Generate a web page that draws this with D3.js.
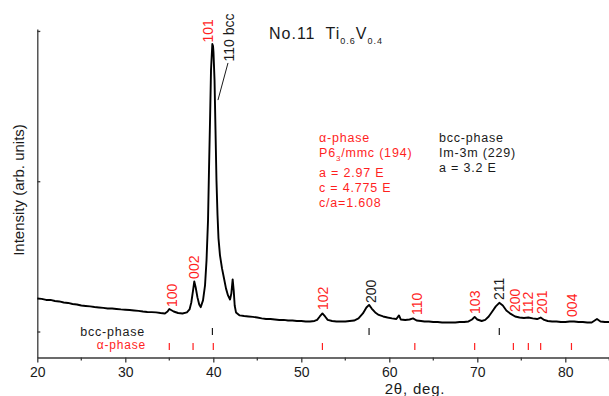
<!DOCTYPE html>
<html>
<head>
<meta charset="utf-8">
<script src="https://cdn.jsdelivr.net/npm/d3@7"></script>
<style>
  body { margin: 0; background: #fff; }
  svg { display: block; font-family: "Liberation Sans", Arial, sans-serif; }
</style>
</head>
<body>
<svg id="chart" width="609" height="396"></svg>
<script>
// XRD pattern
const twoTheta = [
  20.0, 20.5, 21.0, 21.5, 22.0, 22.5, 23.0, 23.5, 24.0, 24.5, 25.0, 25.5, 26.0, 26.5,
  27.0, 27.5, 28.0, 28.5, 29.0, 29.5, 30.0, 30.5, 31.0, 31.5, 32.0, 32.5, 33.0, 33.5,
  34.0, 34.5, 34.8, 35.0, 35.2, 35.5, 36.0, 36.5, 37.0, 37.3, 37.5, 37.7, 37.84, 38.0,
  38.2, 38.4, 38.57, 38.83, 39.06, 39.23, 39.4, 39.51, 39.63, 39.74, 39.89, 39.97, 40.02,
  40.14, 40.25, 40.36, 40.48, 40.59, 40.76, 40.99, 41.22, 41.44, 41.67, 41.9, 42.05, 42.2,
  42.32, 42.43, 42.58, 43.0, 43.5, 44.0, 44.5, 45.0, 45.5, 46.0, 46.5, 47.0, 47.5, 48.0,
  48.5, 49.0, 49.5, 50.0, 50.5, 51.0, 51.5, 51.8, 52.1, 52.4, 52.7, 53.0, 53.5, 54.0,
  54.5, 55.0, 55.5, 56.0, 56.5, 57.0, 57.4, 57.7, 58.0, 58.4, 58.8, 59.3, 59.8, 60.3,
  60.8, 61.1, 61.3, 61.8, 62.3, 62.7, 63.1, 63.6, 64.0, 64.5, 65.0, 65.5, 66.0, 66.5,
  67.0, 67.5, 68.0, 68.5, 69.0, 69.4, 69.7, 70.0, 70.5, 70.9, 71.3, 71.7, 72.1, 72.5,
  72.9, 73.3, 73.8, 74.3, 74.8, 75.3, 75.8, 76.3, 76.8, 77.2, 77.6, 78.0, 78.5, 79.0,
  79.5, 80.0, 80.5, 81.0, 81.5, 82.0, 82.5, 83.0, 83.6, 84.0, 84.5, 85.0
];
const intensity = [
  220, 217, 210, 210, 203, 200, 193, 190, 183, 180, 173, 170, 167, 163,
  160, 157, 153, 153, 150, 147, 145, 143, 140, 137, 133, 130, 129, 127,
  123, 120, 133, 150, 143, 133, 123, 120, 127, 147, 193, 273, 333, 293,
  227, 180, 162, 207, 307, 473, 740, 1073, 1407, 1740, 1913, 1900, 1860,
  1673, 1340, 1007, 773, 620, 507, 420, 353, 287, 240, 213, 253, 347,
  273, 173, 127, 107, 103, 100, 97, 93, 87, 83, 83, 80, 77, 77,
  73, 73, 70, 70, 67, 67, 70, 77, 100, 120, 100, 77, 70, 67,
  67, 67, 70, 73, 87, 120, 160, 177, 153, 127, 110, 100, 93, 87,
  83, 107, 80, 77, 80, 87, 73, 70, 67, 67, 63, 63, 60, 60,
  60, 60, 63, 63, 67, 80, 97, 80, 70, 77, 100, 133, 167, 191,
  173, 140, 117, 100, 93, 90, 93, 87, 83, 93, 77, 70, 67, 67,
  63, 63, 67, 67, 63, 63, 60, 60, 83, 67, 63, 63
];

// reference reflections
const bccPositions = [39.9, 57.7, 72.5];
const alphaPositions = [35.0, 37.7, 40.0, 52.4, 62.9, 69.7, 74.1, 75.8, 77.2, 80.7];

// hkl labels: text, phase, 2theta, intensity where the label starts
const labelText = ['100', '002', '101', '110 bcc', '102', '200', '110', '103', '211', '200', '112', '201', '004'];
const labelPhase = ['a', 'a', 'a', 'b', 'a', 'b', 'a', 'a', 'b', 'a', 'a', 'a', 'a'];
const labelTheta = [35.3, 37.8, 39.34, 41.8, 52.47, 57.9, 63.15, 69.74, 72.5, 74.3, 75.8, 77.4, 80.76];
const labelAt = [163, 350, 1923, 1797, 143, 190, 110, 117, 210, 130, 117, 117, 97];

const xTicks = [20, 30, 40, 50, 60, 70, 80];
const xMinorTicks = [25, 35, 45, 55, 65, 75, 85];
const yTicks = [0, 1000, 2000];

const RED = '#ff1f1f';
const INK = '#1a1a1a';
const AXIS = '#3a3a3a';

const svg = d3.select('#chart');

const x = d3.scaleLinear().domain([20, 85]).range([37.3, 609.3]);
const y = d3.scaleLinear().domain([-173, 2013]).range([357.5, 29]);

//axes
const xAxis = svg.append('g').attr('transform', `translate(0,${y.range()[0]})`);
xAxis.call(d3.axisBottom(x).tickValues(xTicks).tickSize(5).tickSizeOuter(0).tickFormat(d3.format('d')));
xAxis.append('g').selectAll('line').data(xMinorTicks).enter().append('line')
  .attr('x1', (d) => x(d)).attr('x2', (d) => x(d)).attr('y1', 0).attr('y2', 3);
xAxis.selectAll('path, line').attr('stroke', AXIS).attr('stroke-width', 1.3);
xAxis.selectAll('text').attr('font-size', 14).attr('fill', INK).attr('dy', '0.85em')
  .attr('font-family', '"Liberation Sans", Arial, sans-serif');

const yAxis = svg.append('g').attr('transform', `translate(${x.range()[0]},0)`);
yAxis.call(d3.axisLeft(y).tickValues(yTicks).tickSize(-3).tickSizeOuter(0).tickFormat(''));
yAxis.selectAll('path, line').attr('stroke', AXIS).attr('stroke-width', 1.3);

//pattern
const points = twoTheta.map((t, i) => [t, intensity[i]]);
svg.append('path')
  .datum(points)
  .attr('fill', 'none')
  .attr('stroke', '#000')
  .attr('stroke-width', 1.9)
  .attr('stroke-linejoin', 'round')
  .attr('d', d3.line().x((d) => x(d[0])).y((d) => y(d[1])));

//reference bars
const bccRow = 331.5, alphaRow = 346.5;
svg.append('g').selectAll('line').data(bccPositions).enter().append('line')
  .attr('x1', (d) => x(d)).attr('x2', (d) => x(d))
  .attr('y1', bccRow - 3.5).attr('y2', bccRow + 3.5)
  .attr('stroke', INK).attr('stroke-width', 1.2);
svg.append('g').selectAll('line').data(alphaPositions).enter().append('line')
  .attr('x1', (d) => x(d)).attr('x2', (d) => x(d))
  .attr('y1', alphaRow - 3.5).attr('y2', alphaRow + 3.5)
  .attr('stroke', RED).attr('stroke-width', 1.2);

const small = { size: 12.5, spacing: 0.8 };
svg.append('text').attr('x', 145).attr('y', 336).attr('text-anchor', 'end')
  .attr('font-size', small.size).attr('letter-spacing', small.spacing).attr('fill', INK).text('bcc-phase');
svg.append('text').attr('x', 146).attr('y', 349).attr('text-anchor', 'end')
  .attr('font-size', 12).attr('letter-spacing', small.spacing).attr('fill', RED).text('α-phase');

//hkl labels
svg.append('g').selectAll('text').data(labelText).enter().append('text')
  .attr('transform', (d, i) => `translate(${x(labelTheta[i])},${y(labelAt[i])}) rotate(-90)`)
  .attr('dy', '0.36em')
  .attr('font-size', 14)
  .attr('fill', (d, i) => (labelPhase[i] === 'a' ? RED : INK))
  .text((d) => d);

svg.append('line')
  .attr('x1', x(41.67)).attr('y1', y(1787))
  .attr('x2', x(40.53)).attr('y2', y(1540))
  .attr('stroke', INK).attr('stroke-width', 1);

//title
const title = svg.append('text').attr('x', 269).attr('y', 38.5)
  .attr('font-size', 16).attr('letter-spacing', 1).attr('fill', INK);
title.append('tspan').text('No.11');
title.append('tspan').attr('dx', 10).text('Ti');
title.append('tspan').attr('font-size', 9).attr('dy', 5).text('0.6');
title.append('tspan').attr('dy', -5).text('V');
title.append('tspan').attr('font-size', 9).attr('dy', 5).text('0.4');

//phase info
const alphaInfo = [['α-phase', 142], ['P6', 157], ['a = 2.97 E', 176.5], ['c = 4.775 E', 192], ['c/a=1.608', 206.5]];
svg.append('g').selectAll('text').data(alphaInfo).enter().append('text')
  .attr('x', 319).attr('y', (d) => d[1])
  .attr('font-size', small.size).attr('letter-spacing', small.spacing).attr('fill', RED)
  .each(function (d) {
    const t = d3.select(this);
    if (d[0] === 'P6') {
      t.append('tspan').text('P6');
      t.append('tspan').attr('font-size', 8).attr('dy', 4).text('3');
      t.append('tspan').attr('dy', -4).text('/mmc (194)');
    } else {
      t.text(d[0]);
    }
  });

const bccInfo = [['bcc-phase', 142], ['Im-3m (229)', 157], ['a = 3.2 E', 172]];
svg.append('g').selectAll('text').data(bccInfo).enter().append('text')
  .attr('x', 439).attr('y', (d) => d[1])
  .attr('font-size', small.size).attr('letter-spacing', small.spacing).attr('fill', INK)
  .text((d) => d[0]);

//axis titles
svg.append('text')
  .attr('transform', 'translate(24,190) rotate(-90)')
  .attr('text-anchor', 'middle')
  .attr('font-size', 15).attr('fill', INK)
  .text('Intensity (arb. units)');

svg.append('text')
  .attr('x', 415).attr('y', 394)
  .attr('text-anchor', 'middle')
  .attr('font-size', 15).attr('letter-spacing', 0.8).attr('fill', INK)
  .text('2θ, deg.');
</script>
</body>
</html>
